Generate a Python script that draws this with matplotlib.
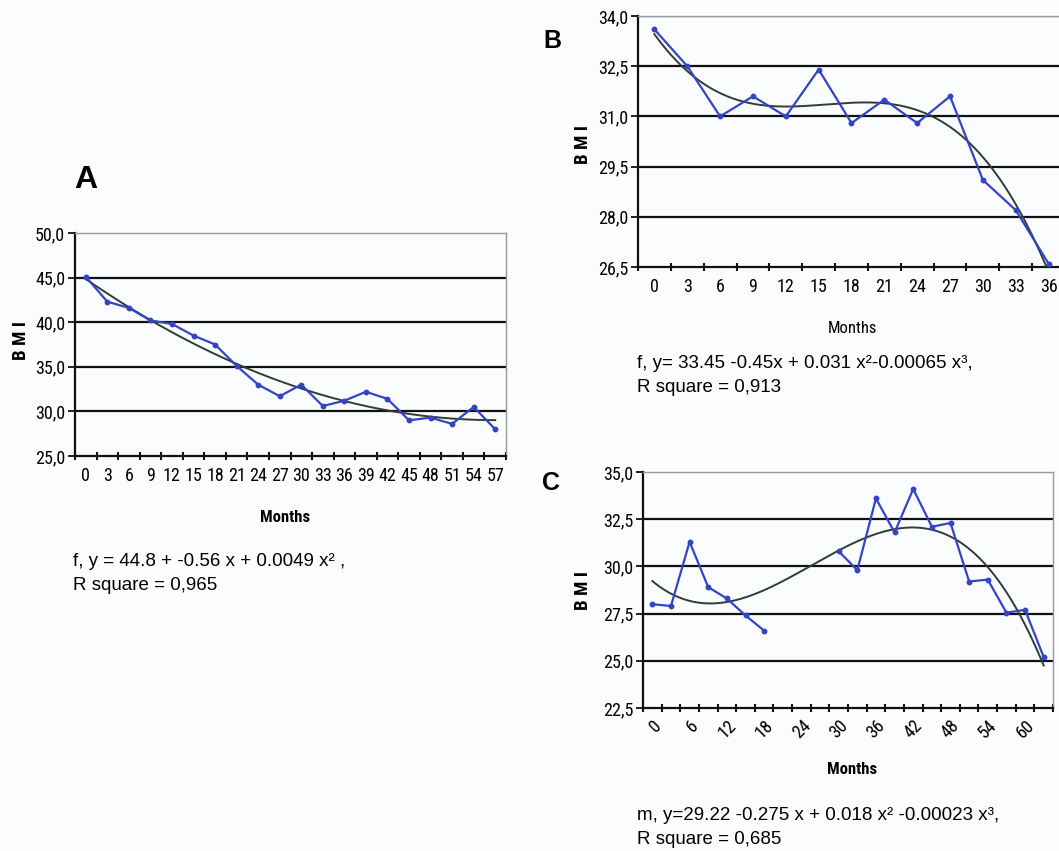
import numpy as np
import matplotlib
matplotlib.use("Agg")
import matplotlib.pyplot as plt
from matplotlib import font_manager

W, H = 1059, 851

# ---------------- data ----------------
months_a = [0, 3, 6, 9, 12, 15, 18, 21, 24, 27, 30, 33, 36, 39, 42, 45, 48, 51, 54, 57]
bmi_a = [45.1, 42.3, 41.6, 40.2, 39.8, 38.5, 37.5, 35.1, 33.0, 31.7, 33.0, 30.6, 31.2, 32.2, 31.4,
         29.0, 29.3, 28.6, 30.5, 28.0]

months_b = [0, 3, 6, 9, 12, 15, 18, 21, 24, 27, 30, 33, 36]
bmi_b = [33.6, 32.5, 31.0, 31.6, 31.0, 32.4, 30.8, 31.5, 30.8, 31.6, 29.1, 28.2, 26.6]

months_c = [0, 3, 6, 9, 12, 15, 18, 21, 24, 27, 30, 33, 36, 39, 42, 45, 48, 51, 54, 57, 60, 63]
bmi_c = [28.0, 27.9, 31.3, 28.9, 28.3, 27.4, 26.6, None, None, None, 30.8, 29.8, 33.6, 31.8, 34.1,
         32.1, 32.3, 29.2, 29.3, 27.55, 27.7, 25.2]

eq_a = ["f, y = 44.8 + -0.56 x + 0.0049 x² ,", "R square = 0,965"]
eq_b = ["f, y= 33.45 -0.45x + 0.031 x²-0.00065 x³,", "R square = 0,913"]
eq_c = ["m, y=29.22 -0.275 x + 0.018 x² -0.00023 x³,", "R square = 0,685"]

# ---------------- style ----------------
BLUE = "#3345c4"
TREND = "#323c34"
BG = "#fbfcfe"
available = {f.name for f in font_manager.fontManager.ttflist}
NARROW = "Liberation Sans"
TICK_FS = 12
for cand in ["Liberation Sans Narrow", "DejaVu Sans Condensed", "Roboto Condensed", "Open Sans Condensed"]:
    if cand in available:
        NARROW = cand
        TICK_FS = 13
        break

fig = plt.figure(figsize=(W / 100, H / 100), dpi=100, facecolor=BG)


def rect(l, t, r, b):
    return [l / W, 1 - b / H, (r - l) / W, (b - t) / H]


def panel(box, months, vals, deg, ylim, ystep, label_every=1, rotate=0, top_grid=False):
    ax = fig.add_axes(rect(*box))
    ax.set_facecolor(BG)
    n = len(months)
    pos = np.arange(n)
    v = np.array([np.nan if x is None else x for x in vals], dtype=float)
    ax.plot(pos, v, color=BLUE, lw=1.6, marker="o", ms=3.2, mfc=BLUE, mec=BLUE, zorder=4)
    ok = ~np.isnan(v)
    m = np.array(months, dtype=float)
    coef = np.polyfit(m[ok], v[ok], deg)
    xs = np.linspace(m[0], m[-1], 300)
    xp = np.interp(xs, m, pos)
    ax.plot(xp, np.polyval(coef, xs), color=TREND, lw=1.4, zorder=3)

    ax.set_xlim(-0.5, n - 0.5)
    ax.set_ylim(*ylim)
    yt = np.arange(ylim[0], ylim[1] + 1e-6, ystep)
    ax.set_yticks(yt)
    ax.set_yticklabels([f"{t:.1f}".replace(".", ",") for t in yt], fontfamily=NARROW, fontsize=TICK_FS)
    for t in yt[1:]:
        if t < ylim[1] - 1e-6 or top_grid:
            ax.axhline(t, color="#111111", lw=1.6, zorder=2)
    ax.set_xticks(pos[::label_every])
    ax.set_xticklabels([str(x) for x in months[::label_every]], fontfamily=NARROW, fontsize=TICK_FS,
                       rotation=rotate, ha="center" if rotate == 0 else "right",
                       rotation_mode="anchor" if rotate else "default")
    ax.set_xticks(np.arange(-0.5, n, 1.0), minor=True)
    ax.tick_params(axis="x", which="major", length=0, pad=8 if rotate == 0 else 6)
    ax.tick_params(axis="x", which="minor", length=6, width=1.5, direction="inout", color="#111111")
    ax.tick_params(axis="y", length=5, width=1.3, direction="out", color="#111111", pad=2)
    for s in ("left", "bottom"):
        ax.spines[s].set_color("#111111")
        ax.spines[s].set_linewidth(1.6)
    for s in ("top", "right"):
        ax.spines[s].set_color("#999999")
        ax.spines[s].set_linewidth(1.0)
    return ax


axA = panel((75, 233, 506, 456), months_a, bmi_a, 2, (25, 50), 5)
axB = panel((638, 16, 1065, 267), months_b, bmi_b, 3, (26.5, 34.0), 1.5, top_grid=True)
axB.spines["right"].set_visible(False)
axC = panel((643, 472, 1053, 708), months_c, bmi_c, 3, (22.5, 35.0), 2.5, label_every=2, rotate=45)

# panel letters
fig.text(74 / W, 1 - 188 / H, "A", fontsize=23, fontweight="bold", family="Liberation Sans")
fig.text(543 / W, 1 - 48 / H, "B", fontsize=18, fontweight="bold", family="Liberation Sans")
fig.text(542 / W, 1 - 490 / H, "C", fontsize=18, fontweight="bold", family="Liberation Sans")

# axis labels
for x, y in [(21, 340), (583, 144), (583, 590)]:
    fig.text(x / W, 1 - y / H, "B M I", rotation=90, ha="center", va="center",
             fontsize=13.5, fontweight="bold", family=NARROW)
fig.text(285 / W, 1 - 518 / H, "Months", ha="center", va="center", fontsize=12,
         fontweight="bold", family=NARROW)
fig.text(852 / W, 1 - 328 / H, "Months", ha="center", va="center", fontsize=12,
         family=NARROW)
fig.text(852 / W, 1 - 770 / H, "Months", ha="center", va="center", fontsize=12,
         fontweight="bold", family=NARROW)

# equations
for (x, y), lines in [((73, 562), eq_a), ((637, 364), eq_b), ((637, 816), eq_c)]:
    for i, s in enumerate(lines):
        fig.text(x / W, 1 - (y + 24 * i) / H, s, ha="left", va="center", fontsize=13.5,
                 family="Liberation Sans")

fig.savefig("out.png", dpi=100, facecolor=BG)
